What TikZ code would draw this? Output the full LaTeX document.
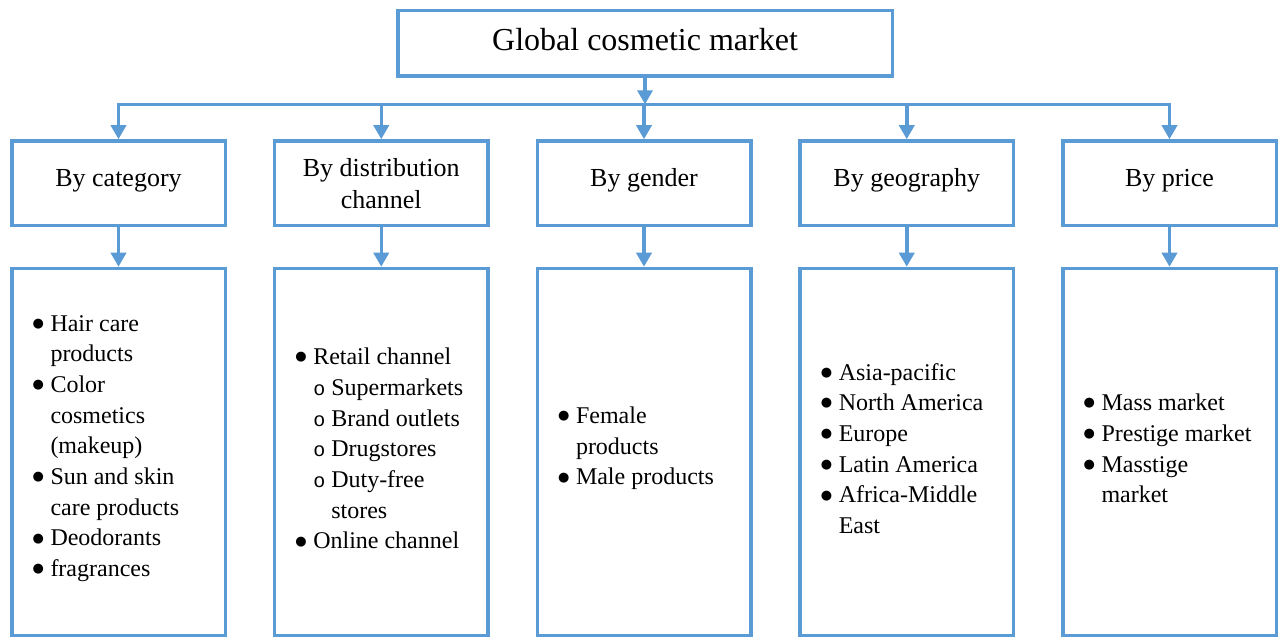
\documentclass[tikz,border=0pt]{standalone}
\usepackage{fontspec}
\setmainfont{Liberation Serif}
\setmonofont{Liberation Mono}
\newfontfamily\dotfont{DejaVu Sans}
\usetikzlibrary{arrows.meta}
\newcommand{\itm}{\makebox[18pt][l]{\raisebox{3.8pt}{\fontsize{13}{13}\dotfont ●}}}
\newcommand{\subitm}{\hspace*{18pt}\makebox[18pt][l]{\fontsize{20}{20}\selectfont\texttt{o}}}
\newcommand{\cont}{\hspace*{18pt}}
\newcommand{\listgap}{\par\vspace*{7pt}}
\begin{document}
\begin{tikzpicture}[x=1pt,y=1pt,
  box/.style={draw=boxColor,line width=3.5pt,inner sep=0pt},
  topbox/.style={box,minimum width=494.5pt,minimum height=65.5pt,text depth=7pt,font=\fontsize{32}{38}\selectfont},
  catbox/.style={box,minimum width=213.5pt,minimum height=84.5pt,align=center,font=\fontsize{26}{32}\selectfont},
  single/.style={catbox,text height=22.5pt,text depth=16.5pt},
  listbox/.style={box,minimum width=213.5pt,minimum height=367pt,text width=172pt,align=flush left,
    font=\fontsize{24}{30.7}\selectfont,execute at end node=\listgap},
  link/.style={draw=boxColor,line width=3.5pt,line cap=rect},
  arr/.style={draw=boxColor,line width=3.5pt,-{Triangle[length=14pt,width=15pt]}}]
\definecolor{boxColor}{RGB}{91,155,213}
\path[use as bounding box,fill=white] (0,0) rectangle (1280,637);

\node[topbox] (market) at (645,593.75) {Global cosmetic market};

\node[single] (cat1) at ( 118.5,453.75) {By category};
\node[catbox] (cat2) at ( 381.25,453.75) {By distribution\\channel};
\node[single] (cat3) at ( 644.0,453.75) {By gender};
\node[single] (cat4) at ( 906.75,453.75) {By geography};
\node[single] (cat5) at (1169.5,453.75) {By price};

\node[listbox] (det1) at ( 118.5,185) {\itm Hair care\\\cont products\\\itm Color\\\cont cosmetics\\\cont (makeup)\\\itm Sun and skin\\\cont care products\\\itm Deodorants\\\itm fragrances};
\node[listbox] (det2) at ( 381.25,185) {\itm Retail channel\\\subitm Supermarkets\\\subitm Brand outlets\\\subitm Drugstores\\\subitm Duty-free\\\hspace*{36pt}stores\\\itm Online channel};
\node[listbox] (det3) at ( 644.0,185) {\itm Female\\\cont products\\\itm Male products};
\node[listbox] (det4) at ( 906.75,185) {\itm Asia-pacific\\\itm North America\\\itm Europe\\\itm Latin America\\\itm Africa-Middle\\\cont East};
\node[listbox] (det5) at (1169.5,185) {\itm Mass market\\\itm Prestige market\\\itm Masstige\\\cont market};

\coordinate (bus) at (0,532.7);

\path[link] (cat1.north |- bus) -- (cat5.north |- bus);
\path[arr] (market.south) -- (market.south |- bus);

\path[arr] (cat1.north |- bus) -- (cat1.north);
\path[arr] (cat2.north |- bus) -- (cat2.north);
\path[arr] (cat3.north |- bus) -- (cat3.north);
\path[arr] (cat4.north |- bus) -- (cat4.north);
\path[arr] (cat5.north |- bus) -- (cat5.north);

\path[arr] (cat1.south) -- (det1.north);
\path[arr] (cat2.south) -- (det2.north);
\path[arr] (cat3.south) -- (det3.north);
\path[arr] (cat4.south) -- (det4.north);
\path[arr] (cat5.south) -- (det5.north);
\end{tikzpicture}
\end{document}
